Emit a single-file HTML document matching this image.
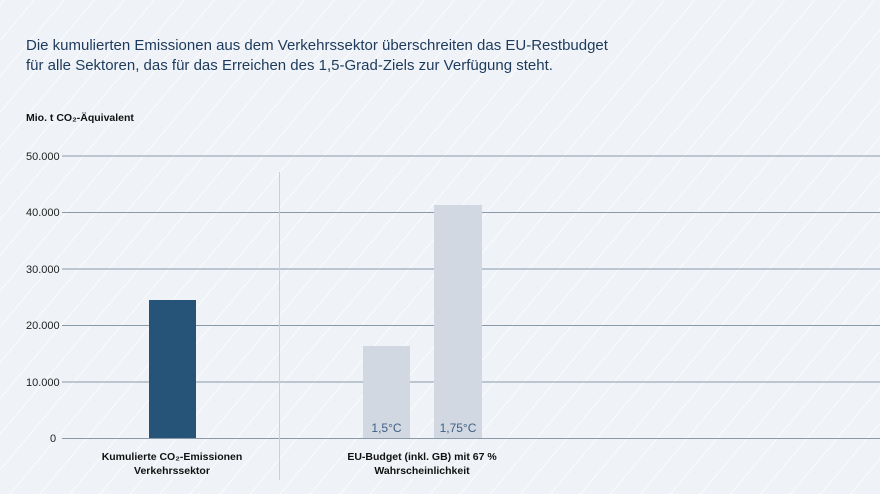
<!DOCTYPE html>
<html><head><meta charset="utf-8"><style>
body{margin:0;width:880px;height:494px;overflow:hidden;font-family:"Liberation Sans",sans-serif;
background-color:#eff3f7;
background-image:repeating-linear-gradient(-50deg,transparent 0,transparent 22px,rgba(255,255,255,0.7) 22px,rgba(255,255,255,0.7) 23px);}
.t{position:absolute;color:#1d3a5c}
</style></head><body>
<div class="t" style="left:26px;top:36px;font-size:15px;line-height:20px">Die kumulierten Emissionen aus dem Verkehrssektor überschreiten das EU-Restbudget<br>für alle Sektoren, das für das Erreichen des 1,5-Grad-Ziels zur Verfügung steht.</div>
<svg width="880" height="494" style="position:absolute;left:0;top:0" font-family="Liberation Sans, sans-serif">
<text x="26" y="121" font-size="10.5" font-weight="bold" fill="#111">Mio. t CO₂-Äquivalent</text>
<g stroke="#8a99a8" stroke-width="1">
<line x1="62" y1="156" x2="880" y2="156"/><line x1="62" y1="212.5" x2="880" y2="212.5"/>
<line x1="62" y1="269" x2="880" y2="269"/><line x1="62" y1="325.5" x2="880" y2="325.5"/>
<line x1="62" y1="382" x2="880" y2="382"/><line x1="62" y1="438.5" x2="880" y2="438.5"/>
</g>
<line x1="279.5" y1="172" x2="279.5" y2="480" stroke="#c8d0d8"/>
<g font-size="11" fill="#222">
<text x="26" y="160">50.000</text><text x="26" y="216">40.000</text><text x="26" y="273">30.000</text>
<text x="26" y="329">20.000</text><text x="26" y="386">10.000</text><text x="50" y="442">0</text>
</g>
<rect x="149" y="300" width="47" height="138" fill="#265479"/>
<rect x="363" y="346" width="47" height="92" fill="#d1d8e2"/>
<rect x="434" y="205" width="48" height="233" fill="#d1d8e2"/>
<g font-size="12" fill="#3d5f86" text-anchor="middle">
<text x="386.5" y="432">1,5°C</text><text x="458" y="432">1,75°C</text></g>
<g font-size="10.5" font-weight="bold" fill="#111" text-anchor="middle">
<text x="172" y="460">Kumulierte CO₂-Emissionen</text><text x="172" y="474">Verkehrssektor</text>
<text x="422" y="460">EU-Budget (inkl. GB) mit 67 %</text><text x="422" y="474">Wahrscheinlichkeit</text>
</g>
</svg>
</body></html>
